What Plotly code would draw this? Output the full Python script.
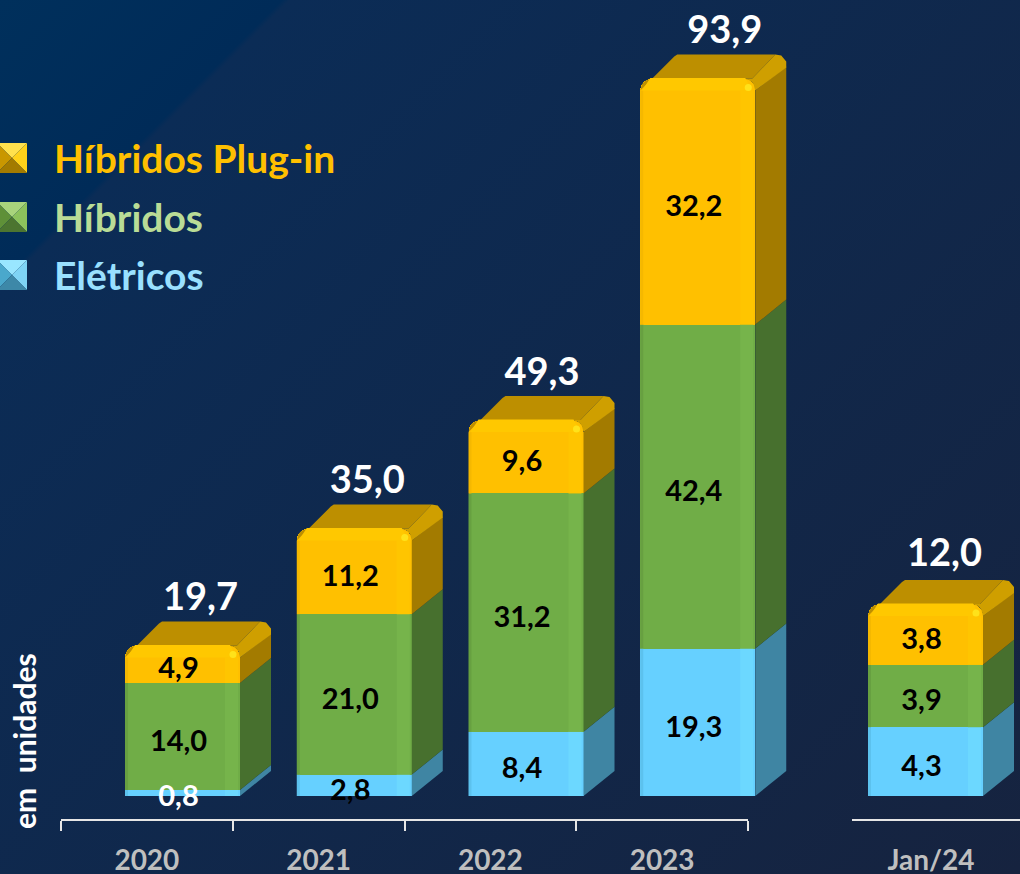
import base64
import plotly.graph_objects as go

# ---- data ----
CATEGORIES = ["2020", "2021", "2022", "2023"]
ELETRICOS = [0.8, 2.8, 8.4, 19.3]
HIBRIDOS = [14.0, 21.0, 31.2, 42.4]
PLUGIN = [4.9, 11.2, 9.6, 32.2]
TOTALS = [19.7, 35.0, 49.3, 93.9]
JAN_CATEGORY = ["Jan/24"]
JAN_ELETRICOS = [4.3]
JAN_HIBRIDOS = [3.9]
JAN_PLUGIN = [3.8]
JAN_TOTAL = [12.0]
SERIES_NAMES = ["Elétricos", "Híbridos", "Híbridos Plug-in"]
AXIS_TITLE = "em\u00a0\u00a0unidades"

# ---- geometry / style ----
W, H = 1020, 874
PX_X = 171.75
X0_PX = 147.0
BASE_PX = 796.0
SCALE_L = 7.64
SCALE_R = 16.0
BAR_W = 115 / PX_X
DX = 31 / PX_X
DY_PX = 25.0
FONT = "Lato, Carlito, 'Open Sans', sans-serif"
FRONT = ["#66d0ff", "#70ad47", "#ffc000"]
STRIP = ["#6cd8ff", "#76b44b", "#ffc500"]
EDGE = ["#5cc2ee", "#67a041", "#f5b800"]
SIDE = ["#3f85a3", "#47702e", "#a37b00"]
TOP = "#bd8f00"
RIDGE = "#cf9f00"
LEGEND_TEXT = ["#99e0ff", "#b9dc96", "#ffc000"]
LEGEND_BEVEL = [
    ("#99e6ff", "#7fd4f5", "#4aa8cc", "#3d88a8", "#66d0ff"),
    ("#a8d47c", "#8cc25c", "#5f9038", "#4c7530", "#70ad47"),
    ("#ffe14d", "#ffd21a", "#c99700", "#a37b00", "#ffc000"),
]


def xpx(px):
    return (px - X0_PX) / PX_X


def paper_x(px):
    return px / W


def paper_y(px):
    return 1 - px / H


fig = go.Figure()


def poly(xs, ys, color, yaxis):
    fig.add_trace(go.Scatter(x=xs, y=ys, mode="lines", fill="toself", fillcolor=color,
                             line=dict(width=0, color=color), hoverinfo="skip",
                             showlegend=False, yaxis=yaxis))


def draw_group(xpos, stacks, totals, scale, yaxis, left_off_px, shifts, label_shift):
    """stacks: [eletricos, hibridos, plugin]"""
    dy = DY_PX / scale
    off = left_off_px / PX_X
    ux, uy = 1 / PX_X, 1 / scale
    for s, values in enumerate(stacks):
        fig.add_trace(go.Bar(x=xpos, y=values, width=BAR_W, offset=off,
                             marker=dict(color=FRONT[s], line=dict(width=0), cornerradius=12),
                             name=SERIES_NAMES[s], cliponaxis=False, showlegend=False,
                             yaxis=yaxis))
    base = [0.0] * len(xpos)
    for s, values in enumerate(stacks):
        for i, xc in enumerate(xpos):
            b, t = base[i], base[i] + values[i]
            x0 = xc + off
            x1 = x0 + BAR_W
            is_top = s == 2
            if is_top:
                # top face, following the rounded front corners
                poly([x0, x0 + 1.6 * ux, x0 + 3.5 * ux, x0 + 6 * ux, x0 + 12 * ux, x1 - 3 * ux,
                      x1 + 20 * ux, x0 + 37 * ux, x0 + 34 * ux],
                     [t - 12 * uy, t - 6 * uy, t - 3.5 * uy, t - 1.6 * uy, t, t,
                      t + 24 * uy, t + 24 * uy, t + 22 * uy], TOP, yaxis)
                # side face
                poly([x1, x1 + 31 * ux, x1 + 31 * ux, x1],
                     [b, b + dy, t + 12 * uy, t - 12 * uy], SIDE[s], yaxis)
                # lit ridge, following the rounded corner
                poly([x1 - 12 * ux, x1 - 6 * ux, x1 - 3.5 * ux, x1 - 1.6 * ux, x1, x1 + 31 * ux,
                      x1 + 31 * ux, x1 + 26 * ux, x1 + 20 * ux, x1 - 3 * ux],
                     [t, t - 1.6 * uy, t - 3.5 * uy, t - 6 * uy, t - 12 * uy, t + 11 * uy,
                      t + 17 * uy, t + 23 * uy, t + 24 * uy, t], RIDGE, yaxis)
            else:
                poly([x1, x1 + DX, x1 + DX, x1], [b, b + dy, t + dy, t], SIDE[s], yaxis)
            # front edge strips (gloss)
            sx0, sx1 = x1 - 15 * ux, x1 - 2 * ux
            st = t - (12 * uy if is_top else 0)
            poly([sx0, sx1, sx1, sx0], [b, b, st, st], STRIP[s], yaxis)
            poly([x0, x0 + 3 * ux, x0 + 3 * ux, x0], [b, b, st, st], EDGE[s], yaxis)
            if is_top:
                # bright band under the top edge
                poly([x0 + 10 * ux, x1 - 10 * ux, x1 - 3 * ux, x0 + 2 * ux],
                     [t + 0.6 * uy, t + 0.6 * uy, t - 12 * uy, t - 12 * uy], "#ffc800", yaxis)
                fig.add_trace(go.Scatter(x=[x1 - 7 * ux], y=[t - 9 * uy], mode="markers",
                                         marker=dict(size=7, color="#ffe21a", line=dict(width=0)),
                                         hoverinfo="skip", showlegend=False, yaxis=yaxis))
        base = [bb + v for bb, v in zip(base, values)]

    # segment labels
    base = [0.0] * len(xpos)
    for s, values in enumerate(stacks):
        colors = ["#ffffff" if v < 1 else "#000000" for v in values]
        lab_x = [xc + off + BAR_W / 2 - 4 * ux for xc in xpos]
        lab_y = [bb + v / 2 - 7 * uy for bb, v in zip(base, values)]
        if s == 0:
            lab_y = [(bb + v / 2 - 7 * uy) if v >= 1 else bb - 3 * uy for bb, v in zip(base, values)]
        fig.add_trace(go.Scatter(x=lab_x, y=lab_y, mode="text",
                                 text=[f"{v:.1f}".replace(".", ",") for v in values],
                                 textfont=dict(family=FONT, size=29, color=colors, weight=700),
                                 textposition="middle center", cliponaxis=False,
                                 hoverinfo="skip", showlegend=False, yaxis=yaxis))
        base = [bb + v for bb, v in zip(base, values)]

    # totals
    stack_tops = [sum(c) for c in zip(*stacks)]
    fig.add_trace(go.Scatter(
        x=[xc + off + BAR_W / 2 + sh * ux for xc, sh in zip(xpos, shifts)],
        y=[t + label_shift * uy for t in stack_tops],
        mode="text", text=[f"{v:.1f}".replace(".", ",") for v in totals],
        textfont=dict(family=FONT, size=38, color="#ffffff", weight=700),
        textposition="middle center", cliponaxis=False,
        hoverinfo="skip", showlegend=False, yaxis=yaxis))


draw_group(list(range(len(CATEGORIES))), [ELETRICOS, HIBRIDOS, PLUGIN], TOTALS, SCALE_L, "y",
           -22, [18, 13, 16, 27], 45)
draw_group([xpx(931)], [JAN_ELETRICOS, JAN_HIBRIDOS, JAN_PLUGIN], JAN_TOTAL, SCALE_R, "y2",
           -63, [19], 48)

# anchors for the two visible category axes
fig.add_trace(go.Scatter(x=list(range(4)), y=[None] * 4, xaxis="x2", yaxis="y", hoverinfo="skip", showlegend=False))
fig.add_trace(go.Scatter(x=[0], y=[None], xaxis="x3", yaxis="y", hoverinfo="skip", showlegend=False))

# ---- legend ----
shapes = []
annotations = []
for name, col, bevel, y_c in zip(SERIES_NAMES[::-1], LEGEND_TEXT[::-1], LEGEND_BEVEL[::-1], [158, 217, 275]):
    l, r, t, b = -3, 27, y_c - 15, y_c + 15
    cx, cy = (l + r) / 2, (t + b) / 2
    top, right, left, bottom, mid = bevel
    faces = [
        ([(l, t), (r, t), (cx, cy)], top),
        ([(r, t), (r, b), (cx, cy)], right),
        ([(l, t), (l, b), (cx, cy)], left),
        ([(l, b), (r, b), (cx, cy)], bottom),
    ]
    for pts, c in faces:
        path = "M" + " L".join(f"{paper_x(a):.5f},{paper_y(q):.5f}" for a, q in pts) + " Z"
        shapes.append(dict(type="path", xref="paper", yref="paper", path=path, fillcolor=c, line_width=0))
    annotations.append(dict(text=name, x=paper_x(52), y=paper_y(y_c), xref="paper", yref="paper",
                            xanchor="left", yanchor="middle", showarrow=False,
                            font=dict(family=FONT, size=39, color=col, weight=700)))

annotations.append(dict(text=AXIS_TITLE, x=paper_x(24), y=paper_y(741), xref="paper", yref="paper",
                        textangle=-90, xanchor="center", yanchor="middle", showarrow=False,
                        font=dict(family=FONT, size=30, color="#ffffff", weight=700)))

# ---- background gradient ----
svg = (f'<svg xmlns="http://www.w3.org/2000/svg" width="{W}" height="{H}">'
       '<defs><linearGradient id="g" gradientUnits="userSpaceOnUse" x1="0" y1="0" x2="947" y2="947">'
       '<stop offset="0" stop-color="#00305c"/><stop offset="0.149" stop-color="#002b58"/>'
       '<stop offset="0.153" stop-color="#0b2c56"/><stop offset="1" stop-color="#16233f"/>'
       f'</linearGradient></defs><rect width="{W}" height="{H}" fill="url(#g)"/></svg>')
bg = "data:image/svg+xml;base64," + base64.b64encode(svg.encode()).decode()

tickfont = dict(family=FONT, size=28, color="#bfbfbf", weight=700)
axis_pos = paper_y(820)
fig.update_layout(
    width=W, height=H, autosize=False,
    margin=dict(l=0, r=0, t=0, b=0, autoexpand=False),
    paper_bgcolor="#0f2a50", plot_bgcolor="rgba(0,0,0,0)",
    barmode="stack", showlegend=False,
    images=[dict(source=bg, xref="paper", yref="paper", x=0, y=1, sizex=1, sizey=1,
                 sizing="stretch", layer="below", xanchor="left", yanchor="top")],
    shapes=shapes, annotations=annotations,
    xaxis=dict(domain=[0, 1], range=[xpx(0), xpx(W)], visible=False, fixedrange=True),
    yaxis=dict(domain=[0, 1], range=[(BASE_PX - H) / SCALE_L, BASE_PX / SCALE_L], visible=False, fixedrange=True),
    yaxis2=dict(domain=[0, 1], overlaying="y", range=[(BASE_PX - H) / SCALE_R, BASE_PX / SCALE_R],
                visible=False, fixedrange=True),
    xaxis2=dict(domain=[paper_x(61), paper_x(748)], range=[-0.5, 3.5], anchor="free", position=axis_pos,
                showgrid=False, zeroline=False, showline=True, linecolor="#e6e6e6", linewidth=2,
                tickmode="array", tickvals=list(range(4)), ticktext=CATEGORIES, ticks="", tickfont=tickfont,
                ticklabelstandoff=15, fixedrange=True,
                minor=dict(tickmode="array", tickvals=[-0.5, 0.5, 1.5, 2.5, 3.5], ticks="outside",
                           ticklen=10, tickwidth=2, tickcolor="#e6e6e6", showgrid=False)),
    xaxis3=dict(domain=[paper_x(852), 1], range=[xpx(852) - xpx(931), xpx(1020) - xpx(931)], anchor="free",
                position=axis_pos, showgrid=False, zeroline=False, showline=True,
                linecolor="#e6e6e6", linewidth=2, tickmode="array", tickvals=[0], ticktext=JAN_CATEGORY,
                ticks="", tickfont=tickfont, ticklabelstandoff=15, fixedrange=True),
)

fig.write_html("out.html", config=dict(displayModeBar=False),
               post_script="document.documentElement.style.margin='0';document.body.style.margin='0';"
                           "document.body.style.overflow='hidden';")
